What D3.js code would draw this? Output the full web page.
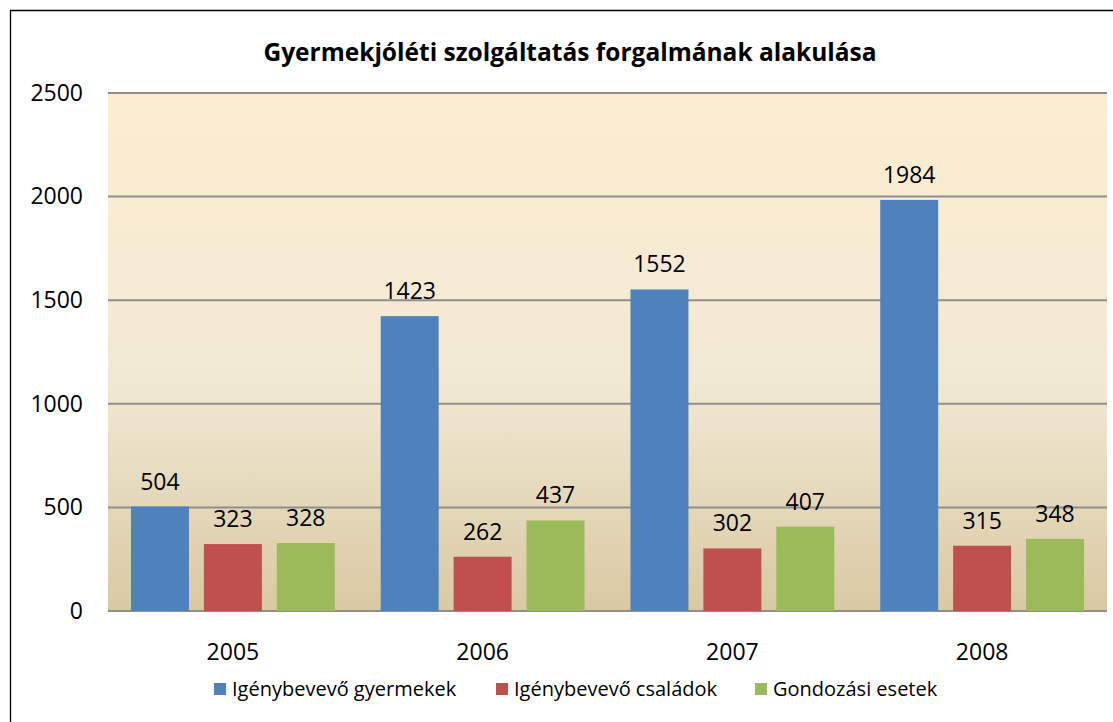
<!DOCTYPE html>
<html>
<head>
<meta charset="utf-8">
<script src="https://cdn.jsdelivr.net/npm/d3@7"></script>
<style>
  body { margin: 0; background: #fff; }
  svg { display: block; font-family: "Open Sans", "Noto Sans", sans-serif; }
</style>
</head>
<body>
<svg id="chart" width="1113" height="722"></svg>
<script>
// adatok
var years = ["2005", "2006", "2007", "2008"];
var seriesNames = ["Igénybevevő gyermekek", "Igénybevevő családok", "Gondozási esetek"];
var gyermekek = [504, 1423, 1552, 1984];
var csaladok = [323, 262, 302, 315];
var esetek = [328, 437, 407, 348];
var yTicks = [0, 500, 1000, 1500, 2000, 2500];
var colors = ["#4F81BD", "#C0504D", "#9BBB59"];

var svg = d3.select("#chart");
var plotLeft = 108, plotRight = 1107, plotTop = 93, plotBottom = 611;
var font = "'Open Sans', 'Noto Sans', sans-serif";

// keret
svg.append("path")
   .attr("d", "M10.5,722 L10.5,10.5 L1113,10.5")
   .attr("fill", "none")
   .attr("stroke", "#000")
   .attr("stroke-width", 1.3);

// háttér színátmenet
var grad = svg.append("defs").append("linearGradient")
   .attr("id", "bg").attr("x1", 0).attr("y1", 0).attr("x2", 0).attr("y2", 1);
grad.append("stop").attr("offset", "0%").attr("stop-color", "#FCEDD0");
grad.append("stop").attr("offset", "55%").attr("stop-color", "#F2E9D4");
grad.append("stop").attr("offset", "100%").attr("stop-color", "#D9C9A3");

svg.append("rect")
   .attr("x", plotLeft).attr("y", plotTop)
   .attr("width", plotRight - plotLeft).attr("height", plotBottom - plotTop)
   .attr("fill", "url(#bg)");

var x0 = d3.scaleBand().domain(years).range([plotLeft, plotRight]);
var x1 = d3.scaleBand().domain(d3.range(3)).range([0, x0.bandwidth()])
           .paddingInner(0.205).paddingOuter(0.315);
var y = d3.scaleLinear().domain([0, 2500]).range([plotBottom, plotTop]);

// rácsvonalak
svg.append("g").selectAll("line")
   .data(yTicks)
   .enter().append("line")
   .attr("x1", plotLeft).attr("x2", plotRight)
   .attr("y1", function(d) { return y(d); })
   .attr("y2", function(d) { return y(d); })
   .attr("stroke", "#8E8E8E")
   .attr("stroke-width", 2);

// y tengely
var yAxis = svg.append("g")
   .attr("transform", "translate(" + plotLeft + ",0)")
   .call(d3.axisLeft(y).tickValues(yTicks).tickFormat(d3.format("d")).tickSize(0).tickPadding(25));
yAxis.select(".domain").remove();
yAxis.attr("font-family", font);
yAxis.selectAll("text").style("font-size", "23px").attr("fill", "#000");

// oszlopok
var series = [gyermekek, csaladok, esetek];
var rows = [];
years.forEach(function(yr, i) {
    series.forEach(function(s, j) {
        rows.push({ year: yr, s: j, v: s[i] });
    });
});

svg.append("g").selectAll("rect")
   .data(rows)
   .enter().append("rect")
   .attr("x", function(d) { return x0(d.year) + x1(d.s); })
   .attr("y", function(d) { return y(d.v); })
   .attr("width", x1.bandwidth())
   .attr("height", function(d) { return plotBottom - y(d.v); })
   .attr("fill", function(d) { return colors[d.s]; });

svg.append("g").selectAll("text")
   .data(rows)
   .enter().append("text")
   .attr("x", function(d) { return x0(d.year) + x1(d.s) + x1.bandwidth() / 2; })
   .attr("y", function(d) { return y(d.v) - 17; })
   .attr("text-anchor", "middle")
   .style("font-size", "23px")
   .text(function(d) { return d.v; });

// x tengely
var xAxis = svg.append("g")
   .attr("transform", "translate(0," + plotBottom + ")")
   .call(d3.axisBottom(x0).tickSize(0).tickPadding(33));
xAxis.select(".domain").remove();
xAxis.attr("font-family", font);
xAxis.selectAll("text").style("font-size", "23px").attr("fill", "#000");

// cím
svg.append("text")
   .attr("x", 570).attr("y", 61)
   .attr("text-anchor", "middle")
   .style("font-size", "24.5px")
   .style("font-weight", "bold")
   .text("Gyermekjóléti szolgáltatás forgalmának alakulása");

// jelmagyarázat
var legendX = [214, 496, 755];
var lg = svg.append("g").selectAll("g")
   .data(seriesNames)
   .enter().append("g")
   .attr("transform", function(d, i) { return "translate(" + legendX[i] + ",683)"; });
lg.append("rect").attr("width", 12).attr("height", 12)
   .attr("fill", function(d, i) { return colors[i]; });
lg.append("text").attr("x", 18).attr("y", 13)
   .style("font-size", "20px")
   .text(function(d) { return d; });
</script>
</body>
</html>
